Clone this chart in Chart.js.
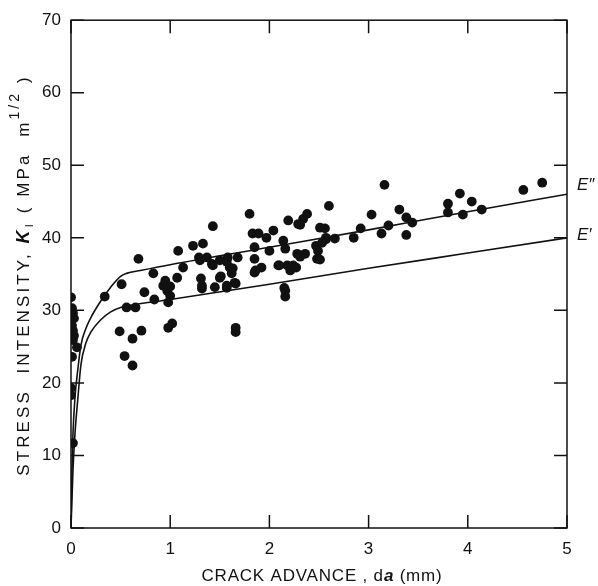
<!DOCTYPE html>
<html>
<head>
<meta charset="utf-8">
<script src="https://cdn.jsdelivr.net/npm/chart.js@4"></script>
<style>
  html, body { margin: 0; padding: 0; background: #fff; }
  #wrap { width: 598px; height: 586px; }
</style>
</head>
<body>
<div id="wrap"><canvas id="myChart"></canvas></div>
<script>
// measured points: crack advance (mm) vs stress intensity K_I
const crackAdv = [
  0.0, 0.01, 0.02, 0.03, 0.01, 0.02, 0.03, 0.02, 0.06, 0.01, 0.0, 0.0, 0.02,
  0.34, 0.51, 0.56, 0.65, 0.49, 0.71, 0.62, 0.54, 0.62, 0.74, 0.84, 0.93, 0.97, 0.98, 1.0, 0.98, 1.02,
  1.32, 1.45, 1.57, 1.66, 1.66, 1.66, 2.16, 2.16,
  0.68, 0.83, 1.08, 1.07, 0.95, 1.0, 1.23, 1.33, 1.43, 1.13, 1.29, 1.37, 1.42, 1.5, 1.5, 1.6, 1.68, 1.58,
  1.31, 1.65, 1.8, 1.83, 1.89, 1.97, 2.04, 1.85, 2.0, 1.85, 1.92, 1.85, 2.14, 2.16, 2.19, 2.29,
  2.09, 2.18, 2.24, 2.28, 2.38, 2.34, 2.31, 2.51, 2.56, 2.6, 2.31, 2.36, 2.47, 2.49, 2.48, 2.57,
  1.86, 2.1, 2.21, 2.27, 2.15, 1.57, 1.63, 1.62, 1.51, 1.32, 1.57, 1.3, 1.43,
  3.16, 3.03, 3.31, 3.38, 3.44, 3.38, 3.2, 3.13, 2.92, 2.85, 2.66, 2.57, 2.53, 2.51,
  3.8, 3.8, 3.92, 3.95, 4.04, 4.14, 4.56, 4.75
];
const stressK = [
  31.8, 30.3, 29.6, 28.9, 27.9, 27.2, 26.5, 25.9, 24.9, 23.6, 19.3, 18.3, 11.7,
  31.9, 33.6, 30.4, 30.4, 27.1, 27.2, 26.1, 23.7, 22.4, 32.5, 31.5, 33.4, 32.7, 31.1, 32.0, 27.6, 28.2,
  33.0, 33.2, 33.1, 33.7, 27.6, 27.0, 32.7, 31.9,
  37.1, 35.1, 38.2, 34.5, 34.1, 33.3, 38.9, 39.2, 41.6, 35.9, 37.3, 37.3, 36.4, 36.9, 34.5, 35.9, 37.3, 37.3,
  34.4, 33.8, 43.3, 40.6, 40.6, 40.0, 41.0, 38.7, 38.2, 37.1, 35.9, 35.2, 39.6, 38.5, 42.4, 41.9,
  36.2, 36.2, 36.2, 37.8, 43.3, 42.6, 41.8, 41.4, 41.3, 44.4, 37.4, 37.8, 38.9, 38.2, 37.1, 40.0,
  35.5, 36.2, 35.5, 35.9, 33.1, 36.7, 35.8, 35.1, 34.7, 33.4, 33.4, 36.9, 36.2,
  47.3, 43.2, 43.9, 42.8, 42.1, 40.4, 41.7, 40.6, 41.3, 40.0, 39.9, 39.8, 39.3, 37.0,
  44.7, 43.5, 46.1, 43.2, 45.0, 43.9, 46.6, 47.6
];

// fitted curves E'' and E'
const curveUpperX = [0, 0.01, 0.02, 0.04, 0.07, 0.1, 0.15, 0.2, 0.3, 0.4, 0.5, 0.56, 0.7, 1, 2, 3, 4, 5];
const curveUpperK = [0, 8, 13, 18, 22, 25.2, 27.5, 29, 31.3, 33.2, 34.7, 35.1, 35.5, 36.3, 38.7, 41.1, 43.6, 46];
const curveLowerX = [0, 0.02, 0.04, 0.07, 0.1, 0.15, 0.2, 0.3, 0.4, 0.5, 0.6, 1, 2, 3, 4, 5];
const curveLowerK = [0, 8, 13, 18, 22.5, 25.5, 27, 28.7, 29.8, 30.4, 30.7, 31.5, 33.6, 35.8, 37.9, 40];

const xTicks = [0, 1, 2, 3, 4, 5];
const yTicks = [0, 10, 20, 30, 40, 50, 60, 70];
const curveLabels = ["E\u2033", "E\u2032"];

const INK = "#111";
const FONT = "'Liberation Sans', 'DejaVu Sans', sans-serif";

function toPoints(xs, ys) {
  let pts = [];
  for (let i = 0; i < xs.length; i++) pts.push({ x: xs[i], y: ys[i] });
  return pts;
}

function drawParts(c, parts, startX, baseY, spacing) {
  let total = 0;
  parts.forEach(p => {
    c.font = p.f;
    c.letterSpacing = spacing + "px";
    p.w = c.measureText(p.t).width;
    total += p.w;
  });
  let x = startX === null ? -total / 2 : startX - total / 2;
  parts.forEach(p => {
    c.font = p.f;
    c.letterSpacing = spacing + "px";
    c.fillText(p.t, x, baseY + (p.dy || 0));
    x += p.w;
  });
}

// frame, inward ticks, curve labels and axis titles
const framePlugin = {
  id: "frame",
  afterDraw(chart) {
    const c = chart.ctx;
    const a = chart.chartArea;
    const xs = chart.scales.x, ys = chart.scales.y;
    c.save();
    c.strokeStyle = INK;
    c.lineWidth = 1.5;
    c.strokeRect(a.left, a.top, a.right - a.left, a.bottom - a.top);
    const tl = 13;
    c.beginPath();
    xTicks.forEach(v => {
      const px = xs.getPixelForValue(v);
      c.moveTo(px, a.bottom); c.lineTo(px, a.bottom - tl);
      c.moveTo(px, a.top); c.lineTo(px, a.top + tl);
    });
    yTicks.forEach(v => {
      const py = ys.getPixelForValue(v);
      c.moveTo(a.left, py); c.lineTo(a.left + tl, py);
      c.moveTo(a.right, py); c.lineTo(a.right - tl, py);
    });
    c.stroke();

    // curve labels at the right edge
    c.fillStyle = INK;
    c.font = "italic 17px " + FONT;
    c.textBaseline = "middle";
    c.textAlign = "left";
    c.fillText(curveLabels[0], a.right + 10, ys.getPixelForValue(curveUpperK[curveUpperK.length - 1]) - 9);
    c.fillText(curveLabels[1], a.right + 10, ys.getPixelForValue(curveLowerK[curveLowerK.length - 1]) - 3);

    // x title
    c.textAlign = "left";
    c.textBaseline = "alphabetic";
    drawParts(c, [
      { t: "CRACK ADVANCE , d", f: "17px " + FONT },
      { t: "a", f: "italic bold 17px " + FONT },
      { t: " (mm)", f: "17px " + FONT }
    ], (a.left + a.right) / 2 + 3, 581, 0.8);

    // y title, rotated
    c.translate(29, 275);
    c.rotate(-Math.PI / 2);
    drawParts(c, [
      { t: "STRESS  INTENSITY, ", f: "17px " + FONT },
      { t: "K", f: "italic bold 18px " + FONT },
      { t: "I", f: "11px " + FONT, dy: 4 },
      { t: " ( MPa  m", f: "17px " + FONT },
      { t: "1/2", f: "14px " + FONT, dy: -10 },
      { t: " )", f: "17px " + FONT }
    ], null, 0, 3.1);
    c.restore();
  }
};

const ctx = document.getElementById("myChart");

new Chart(ctx, {
  type: "scatter",
  data: {
    datasets: [
      {
        label: "data",
        data: toPoints(crackAdv, stressK),
        backgroundColor: INK,
        borderColor: INK,
        pointRadius: 4.9,
        pointBorderWidth: 0
      },
      {
        label: curveLabels[0],
        data: toPoints(curveUpperX, curveUpperK),
        showLine: true,
        pointRadius: 0,
        borderColor: INK,
        borderWidth: 1.6,
        cubicInterpolationMode: "monotone"
      },
      {
        label: curveLabels[1],
        data: toPoints(curveLowerX, curveLowerK),
        showLine: true,
        pointRadius: 0,
        borderColor: INK,
        borderWidth: 1.6,
        cubicInterpolationMode: "monotone"
      }
    ]
  },
  options: {
    responsive: true,
    maintainAspectRatio: false,
    animation: false,
    layout: { padding: { top: 19, right: 31, left: 0, bottom: 0 } },
    plugins: { legend: { display: false }, tooltip: { enabled: false } },
    scales: {
      x: {
        type: "linear",
        min: 0, max: 5,
        grid: { display: false, drawTicks: false },
        border: { display: false },
        afterFit: s => { s.height = 58; },
        afterBuildTicks: s => { s.ticks = xTicks.map(v => ({ value: v })); },
        ticks: { color: INK, font: { family: FONT, size: 17 }, padding: 11 }
      },
      y: {
        type: "linear",
        min: 0, max: 70,
        grid: { display: false, drawTicks: false },
        border: { display: false },
        afterFit: s => { s.width = 71; },
        afterBuildTicks: s => { s.ticks = yTicks.map(v => ({ value: v })); },
        ticks: { color: INK, font: { family: FONT, size: 17 }, padding: 10 }
      }
    }
  },
  plugins: [framePlugin]
});
</script>
</body>
</html>
